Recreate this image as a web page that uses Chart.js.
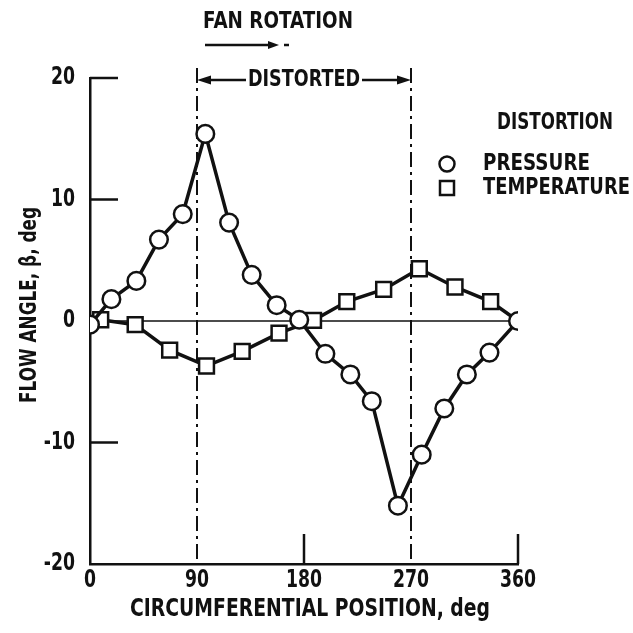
<!DOCTYPE html>
<html>
<head>
<meta charset="utf-8">
<title>Flow angle vs circumferential position</title>
<script src="https://cdn.jsdelivr.net/npm/chart.js@4.4.1/dist/chart.umd.min.js"></script>
<style>
  html, body { margin: 0; padding: 0; background: #fff; }
  #wrap { width: 633px; height: 633px; }
</style>
</head>
<body>
<div id="wrap"><canvas id="flowAngleChart" width="633" height="633"></canvas></div>
<script>
// Values (circumferential position and flow angle, both in deg)
const pressureAngle = [0, 18, 39, 58, 78, 97, 117, 136, 157, 176, 198, 219, 237, 259, 279, 298, 317, 336, 360];
const pressureBeta = [-0.3, 1.8, 3.3, 6.7, 8.8, 15.4, 8.1, 3.8, 1.3, 0.1, -2.7, -4.4, -6.6, -15.2, -11.0, -7.2, -4.4, -2.6, 0];

const temperatureAngle = [9, 38, 67, 98, 128, 159, 188, 216, 247, 277, 307, 337, 360];
const temperatureBeta = [0.1, -0.3, -2.4, -3.7, -2.5, -1.0, 0.05, 1.6, 2.6, 4.3, 2.8, 1.6, 0];

const xTicks = [0, 90, 180, 270, 360];
const yTicks = [-20, -10, 0, 10, 20];
const distortedRange = [90, 270];

// no narrow face installed, so text gets squeezed horizontally instead
const FONT = '"DejaVu Sans", sans-serif';
const INK = '#111';
const TICK_SQUEEZE = 0.72;

function toPoints(xs, ys) {
    return xs.map((x, i) => ({ x: x, y: ys[i] }));
}

function arrowHead(ctx, x, y, dir, len, half) {
    ctx.beginPath();
    ctx.moveTo(x, y);
    ctx.lineTo(x - dir * len, y - half);
    ctx.lineTo(x - dir * len, y + half);
    ctx.closePath();
    ctx.fill();
}

// draws bold text squeezed to a given width (or by a given factor when width < 1)
function text(ctx, str, x, y, size, align, width) {
    ctx.save();
    ctx.font = `bold ${size}px ${FONT}`;
    ctx.textBaseline = 'middle';
    ctx.textAlign = 'left';
    const natural = ctx.measureText(str).width;
    const k = width < 1.5 ? width : width / natural;
    const w = natural * k;
    let left = x;
    if (align === 'center') left = x - w / 2;
    if (align === 'right') left = x - w;
    ctx.translate(left, y);
    ctx.scale(k, 1);
    ctx.fillText(str, 0, 0);
    ctx.restore();
}

// Zero line, dash-dot region lines and the inward ticks go under the data
const decorUnder = {
    id: 'decorUnder',
    beforeDatasetsDraw(chart) {
        const ctx = chart.ctx;
        const xs = chart.scales.x;
        const ys = chart.scales.y;
        const area = chart.chartArea;

        ctx.save();
        ctx.strokeStyle = INK;

        // zero line
        ctx.lineWidth = 1.5;
        ctx.beginPath();
        ctx.moveTo(area.left, ys.getPixelForValue(0));
        ctx.lineTo(area.right, ys.getPixelForValue(0));
        ctx.stroke();

        // inward ticks on the y axis
        ctx.lineWidth = 2.5;
        [10, 20, -10].forEach(v => {
            const y = ys.getPixelForValue(v);
            ctx.beginPath();
            ctx.moveTo(area.left, y);
            ctx.lineTo(area.left + 28, y);
            ctx.stroke();
        });

        // upward ticks on the x axis
        [180, 360].forEach(v => {
            const x = xs.getPixelForValue(v);
            ctx.beginPath();
            ctx.moveTo(x, area.bottom);
            ctx.lineTo(x, area.bottom - 30);
            ctx.stroke();
        });

        // dash-dot lines bounding the distorted sector
        ctx.lineWidth = 2;
        ctx.setLineDash([15, 5, 3, 5]);
        distortedRange.forEach(v => {
            const x = xs.getPixelForValue(v);
            ctx.beginPath();
            ctx.moveTo(x, area.top - 10);
            ctx.lineTo(x, area.bottom);
            ctx.stroke();
        });
        ctx.restore();
    }
};

// Tick labels, titles, annotations and the legend box
const decorOver = {
    id: 'decorOver',
    afterDraw(chart) {
        const ctx = chart.ctx;
        const xs = chart.scales.x;
        const ys = chart.scales.y;
        const area = chart.chartArea;
        const x0 = xs.getPixelForValue(distortedRange[0]);
        const x1 = xs.getPixelForValue(distortedRange[1]);

        ctx.save();
        ctx.fillStyle = INK;
        ctx.strokeStyle = INK;

        xs.ticks.forEach(t => {
            text(ctx, String(t.value), xs.getPixelForValue(t.value), area.bottom + 17, 24, 'center', TICK_SQUEEZE);
        });
        ys.ticks.forEach(t => {
            text(ctx, String(t.value), area.left - 15, ys.getPixelForValue(t.value), 24, 'right', TICK_SQUEEZE);
        });

        // fan rotation arrow
        text(ctx, 'FAN ROTATION', 278, 22, 23, 'center', 150);
        ctx.lineWidth = 2.5;
        ctx.beginPath();
        ctx.moveTo(205, 45);
        ctx.lineTo(270, 45);
        ctx.stroke();
        arrowHead(ctx, 279, 45, 1, 11, 4);
        ctx.beginPath();
        ctx.moveTo(284, 45);
        ctx.lineTo(289, 45);
        ctx.stroke();

        // distorted sector
        const yd = 80;
        const xm = (x0 + x1) / 2;
        text(ctx, 'DISTORTED', xm, yd, 23, 'center', 112);
        ctx.lineWidth = 2.5;
        ctx.beginPath();
        ctx.moveTo(x0 + 10, yd);
        ctx.lineTo(xm - 58, yd);
        ctx.moveTo(xm + 58, yd);
        ctx.lineTo(x1 - 10, yd);
        ctx.stroke();
        arrowHead(ctx, x0, yd, -1, 14, 4.5);
        arrowHead(ctx, x1, yd, 1, 14, 4.5);

        // legend
        text(ctx, 'DISTORTION', 497, 123, 23, 'left', 116);
        ctx.lineWidth = 2.5;
        ctx.beginPath();
        ctx.arc(447, 164, 7.5, 0, Math.PI * 2);
        ctx.stroke();
        ctx.strokeRect(440, 181, 14, 14);
        text(ctx, 'PRESSURE', 483, 164, 23, 'left', 107);
        text(ctx, 'TEMPERATURE', 483, 188, 23, 'left', 147);

        // axis titles
        text(ctx, 'CIRCUMFERENTIAL POSITION, deg', 310, 610, 24, 'center', 360);
        ctx.translate(30, 305);
        ctx.rotate(-Math.PI / 2);
        text(ctx, 'FLOW ANGLE, \u03B2, deg', 0, 0, 23, 'center', 196);
        ctx.restore();
    }
};

function renderFlowAngleChart() {
    const ctx = document.getElementById('flowAngleChart');
    const lastTemp = temperatureAngle.length - 1;

    return new Chart(ctx, {
        type: 'line',
        data: {
            datasets: [{
                label: 'PRESSURE',
                data: toPoints(pressureAngle, pressureBeta),
                borderColor: INK,
                borderWidth: 3.5,
                pointStyle: 'circle',
                pointRadius: 8.8,
                pointBorderWidth: 2.5,
                pointBorderColor: INK,
                pointBackgroundColor: '#fff',
                tension: 0
            }, {
                label: 'TEMPERATURE',
                data: toPoints(temperatureAngle, temperatureBeta),
                borderColor: INK,
                borderWidth: 3.5,
                pointStyle: 'rect',
                pointRadius: c => (c.dataIndex === lastTemp ? 0 : 10.5),
                pointBorderWidth: 2.5,
                pointBorderColor: INK,
                pointBackgroundColor: '#fff',
                tension: 0
            }]
        },
        options: {
            responsive: false,
            animation: false,
            devicePixelRatio: 1,
            layout: { padding: { top: 78, right: 115, left: 0, bottom: 0 } },
            plugins: {
                legend: { display: false },
                tooltip: { enabled: false }
            },
            scales: {
                x: {
                    type: 'linear',
                    min: 0,
                    max: 360,
                    afterBuildTicks: s => { s.ticks = xTicks.map(v => ({ value: v })); },
                    afterFit: s => { s.height = 69; },
                    grid: { display: false, drawTicks: false },
                    border: { display: true, color: INK, width: 2.5 },
                    ticks: { display: false }
                },
                y: {
                    type: 'linear',
                    min: -20,
                    max: 20,
                    afterBuildTicks: s => { s.ticks = yTicks.map(v => ({ value: v })); },
                    afterFit: s => { s.width = 90; },
                    grid: { display: false, drawTicks: false },
                    border: { display: true, color: INK, width: 2.5 },
                    ticks: { display: false }
                }
            }
        },
        plugins: [decorUnder, decorOver]
    });
}

renderFlowAngleChart();
</script>
</body>
</html>
